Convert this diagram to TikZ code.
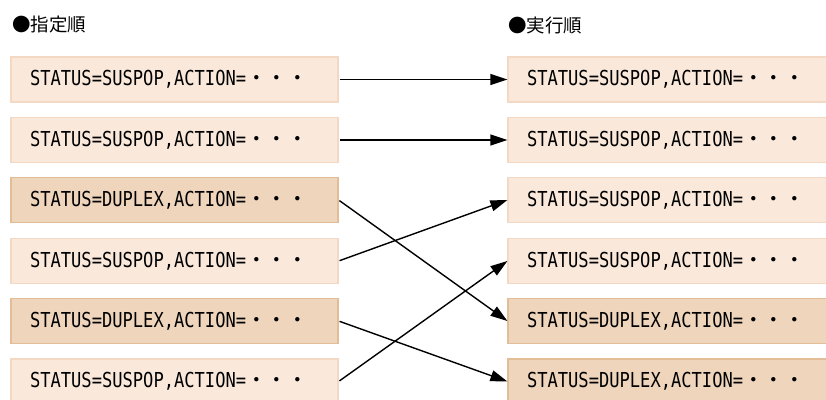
\documentclass[tikz,border=0pt]{standalone}
\usepackage{fontspec}
\usetikzlibrary{arrows.meta}
\newfontfamily\jpfont{Noto Sans CJK JP}
\newfontfamily\monof[FakeStretch=0.83]{DejaVu Sans Mono}
\definecolor{lightfill}{HTML}{FAE9DB}
\definecolor{lightdraw}{HTML}{F3D9C4}
\definecolor{darkfill}{HTML}{EFD5BC}
\definecolor{darkdraw}{HTML}{E3BC98}
\newcommand\cmdtext[1]{{\monof\fontsize{20.6}{22}\selectfont STATUS=#1,ACTION=}{\jpfont\fontsize{20.6}{22}\selectfont ・・・}}
\tikzset{
  cmdbox/.style={rectangle, minimum width=327pt, minimum height=45pt, text width=289pt,
    inner xsep=19pt, inner ysep=0pt, align=left, line width=1.2pt},
  susbox/.style={cmdbox, fill=lightfill, draw=lightdraw},
  dupbox/.style={cmdbox, fill=darkfill, draw=darkdraw},
  header/.style={anchor=west, inner sep=0pt, font=\jpfont\fontsize{18.5}{20}\selectfont},
  conn/.style={line width=1.4pt, -{Triangle[length=17pt,width=11pt]}, shorten <=1pt}
}
\begin{document}
\begin{tikzpicture}[x=1pt,y=-1pt]
\useasboundingbox (0,0) rectangle (826,399);
\clip (0,0) rectangle (826,399);
\node[header] (h1) at (12,25) {●指定順};
\node[header] (h2) at (508,25) {●実行順};
% left column
\node[susbox] (l1) at (174.5,79.5) {\cmdtext{SUSPOP}};
\node[susbox] (l2) at (174.5,140) {\cmdtext{SUSPOP}};
\node[dupbox] (l3) at (174.5,200) {\cmdtext{DUPLEX}};
\node[susbox] (l4) at (174.5,261) {\cmdtext{SUSPOP}};
\node[dupbox] (l5) at (174.5,321) {\cmdtext{DUPLEX}};
\node[susbox] (l6) at (174.5,381.5) {\cmdtext{SUSPOP}};
% right column
\node[susbox] (r1) at (671.5,79.5) {\cmdtext{SUSPOP}};
\node[susbox] (r2) at (671.5,140) {\cmdtext{SUSPOP}};
\node[susbox] (r3) at (671.5,200) {\cmdtext{SUSPOP}};
\node[susbox] (r4) at (671.5,261) {\cmdtext{SUSPOP}};
\node[dupbox] (r5) at (671.5,321) {\cmdtext{DUPLEX}};
\node[dupbox] (r6) at (671.5,381.5) {\cmdtext{DUPLEX}};
% connectors
\draw[conn] (l1.east) -- (r1.west);
\draw[conn] (l2.east) -- (r2.west);
\draw[conn] (l3.east) -- (r5.west);
\draw[conn] (l4.east) -- (r3.west);
\draw[conn] (l5.east) -- (r6.west);
\draw[conn] (l6.east) -- (r4.west);
\end{tikzpicture}
\end{document}
